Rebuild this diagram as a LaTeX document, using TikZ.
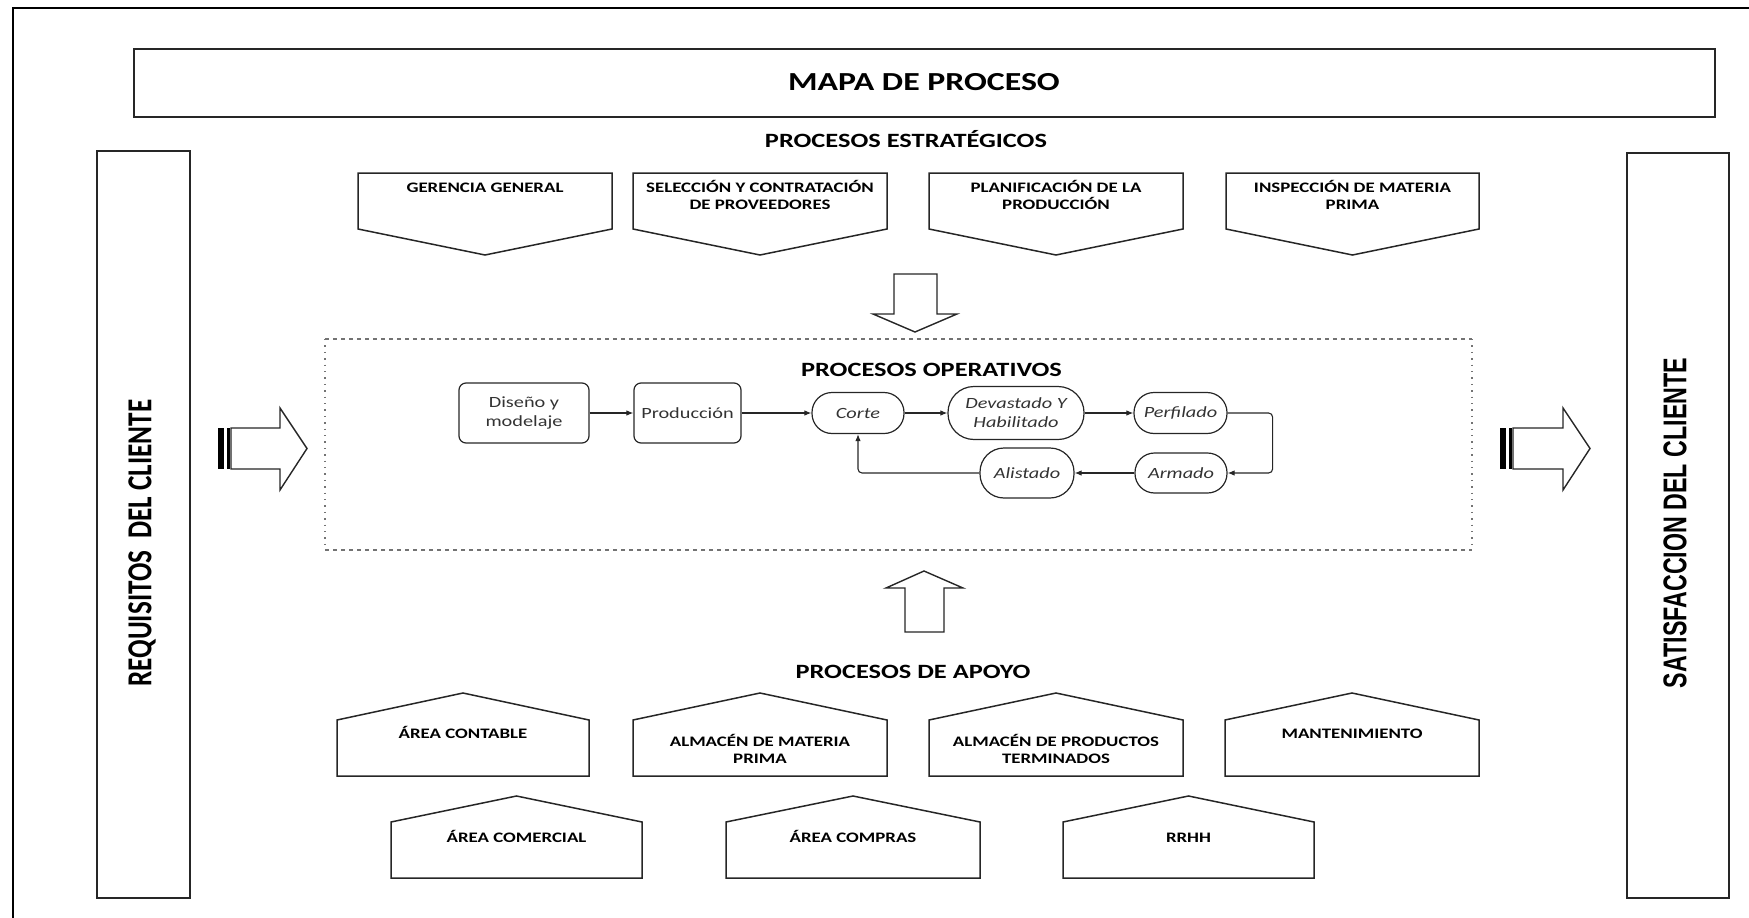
\documentclass[tikz,border=0pt]{standalone}
\usepackage{fontspec}
\usepackage{graphicx}
\setmainfont{Carlito}[FakeStretch=1.3]
\newfontfamily\plaincarlito{Carlito}
\newfontfamily\arialfont{Liberation Sans}
\usetikzlibrary{arrows.meta}

\begin{document}
\begin{tikzpicture}[x=1pt,y=-1pt,
  outline/.style={draw=black!85,line width=1.5pt,line join=miter},
  heading/.style={font=\fontsize{20.3}{24}\selectfont\bfseries, anchor=base, inner sep=0pt},
  boxtext/.style={font=\fontsize{14.5}{17.5}\selectfont\bfseries, align=center, anchor=north,
                  inner sep=0pt, execute at begin node={\vphantom{Á}}},
  flownode/.style={draw=black!85, line width=1.2pt, text=black!80,
                   font=\fontsize{15.6}{19}\selectfont, align=center, inner sep=0pt},
  procbox/.style={flownode, rounded corners=7pt},
  stadium/.style={flownode, font=\fontsize{15.6}{19}\selectfont\itshape},
  flow/.style={draw=black!85, line width=1.1pt, -{Latex[length=7pt,width=5.5pt]}},
  hdash/.style={draw=black!55, line width=1.2pt, dash pattern=on 4pt off 4pt},
  vdot/.style={draw=black!55, line width=1.4pt, dash pattern=on 1.4pt off 5pt},
  blockarrow/.style={draw=black!85, line width=1.4pt, fill=white, line join=miter},
]
\useasboundingbox (0,0) rectangle (1749,918);

% outer frame
\draw[line width=1.5pt] (13,918) -- (13,8) -- (1749,8);

% title
\draw[outline] (134,49) rectangle (1715,117);
\node[font=\fontsize{26}{30}\selectfont\bfseries, anchor=base, inner sep=0pt] (title) at (924,90) {MAPA DE PROCESO};

% side columns
\draw[outline] (97,151) rectangle (190,898);
\draw[outline] (1627,153) rectangle (1729,898);
\node[rotate=90, inner sep=0pt] (req) at (142,543)
  {\resizebox{287pt}{23pt}{\plaincarlito\bfseries REQUISITOS\ \ DEL CLIENTE}};
\node[rotate=90, inner sep=0pt] (sat) at (1675,523)
  {\resizebox{330pt}{23pt}{\arialfont\bfseries SATISFACCION DEL CLIENTE}};

% strategic processes
\node[heading] (estr) at (906,147.5) {PROCESOS ESTRATÉGICOS};
\foreach \xa/\xb/\xc in {358/612/485, 633/887/760, 929/1183/1056, 1226/1479/1352.5}
  \draw[outline] (\xa,173) -- (\xb,173) -- (\xb,229) -- (\xc,255) -- (\xa,229) -- cycle;
\node[boxtext] (ger) at (485,179.8) {GERENCIA GENERAL};
\node[boxtext] (sel) at (760,179.8) {SELECCIÓN Y CONTRATACIÓN\\DE PROVEEDORES};
\node[boxtext] (pla) at (1056,179.8) {PLANIFICACIÓN DE LA\\PRODUCCIÓN};
\node[boxtext] (ins) at (1352.5,179.8) {INSPECCIÓN DE MATERIA\\PRIMA};

% down and up block arrows
\draw[blockarrow] (894,274) -- (937,274) -- (937,314) -- (957,314) -- (915,332)
  -- (873,314) -- (894,314) -- cycle;
\draw[blockarrow] (905,632) -- (905,588) -- (886,588) -- (924,571) -- (963,588)
  -- (944,588) -- (944,632) -- cycle;

% striped arrows at both sides
\fill[black] (218,428) rectangle (223.5,469);
\fill[black] (227,428) rectangle (229.5,469);
\draw[blockarrow] (231,428) -- (280,428) -- (280,408) -- (307,448.5) -- (280,490)
  -- (280,469) -- (231,469) -- cycle;
\fill[black] (1500,428) rectangle (1505.5,469);
\fill[black] (1509,428) rectangle (1511.5,469);
\draw[blockarrow] (1513,428) -- (1563,428) -- (1563,408) -- (1590,448.5) -- (1563,490)
  -- (1563,469) -- (1513,469) -- cycle;

% operative processes frame
\draw[hdash] (325,339) -- (1472,339);
\draw[hdash] (325,550) -- (1472,550);
\draw[vdot] (325,339) -- (325,550);
\draw[vdot] (1472,339) -- (1472,550);
\node[heading] (oper) at (931.5,376) {PROCESOS OPERATIVOS};

% operative flow
\node[procbox, minimum width=130pt, minimum height=60pt] (dis) at (524,413) {Diseño y\\modelaje};
\node[procbox, minimum width=107pt, minimum height=60pt] (pro) at (687.5,413) {Producción};
\node[stadium, rounded corners=20pt, minimum width=92pt, minimum height=41pt] (cor) at (858,413) {Corte};
\node[stadium, rounded corners=26pt, minimum width=136pt, minimum height=53pt] (dev) at (1016,413) {Devastado Y\\Habilitado};
\node[stadium, rounded corners=20pt, minimum width=93pt, minimum height=41pt] (per) at (1180.5,413) {Perfilado};
\node[stadium, rounded corners=19.5pt, minimum width=92pt, minimum height=40pt] (arm) at (1181,473) {Armado};
\node[stadium, rounded corners=24pt, minimum width=94pt, minimum height=50pt] (ali) at (1027,473) {Alistado};

\draw[flow] (dis.east) -- (pro.west);
\draw[flow] (pro.east) -- (cor.west);
\draw[flow] (cor.east) -- (dev.west);
\draw[flow] (dev.east) -- (per.west);
\draw[flow, rounded corners=4pt] (per.east) -- ++(45,0) |- (arm.east);
\draw[flow] (arm.west) -- (ali.east);
\draw[flow, rounded corners=4pt] (ali.west) -| (cor.south);

% support processes
\node[heading] (apoyo) at (913,678) {PROCESOS DE APOYO};
\foreach \xa/\xb/\xc in {337/589/463, 633/887/760, 929/1183/1056, 1225/1479/1352}
  \draw[outline] (\xa,776) -- (\xa,720) -- (\xc,693) -- (\xb,720) -- (\xb,776) -- cycle;
\foreach \xa/\xb/\xc in {391/642/516.5, 726/980/853, 1063/1314/1188.5}
  \draw[outline] (\xa,878) -- (\xa,822) -- (\xc,796) -- (\xb,822) -- (\xb,878) -- cycle;
\node[boxtext] (con) at (463,725.8) {ÁREA CONTABLE};
\node[boxtext] (amp) at (760,733.8) {ALMACÉN DE MATERIA\\PRIMA};
\node[boxtext] (apt) at (1056,733.8) {ALMACÉN DE PRODUCTOS\\TERMINADOS};
\node[boxtext] (man) at (1352,725.8) {MANTENIMIENTO};
\node[boxtext] (com) at (516.5,829.8) {ÁREA COMERCIAL};
\node[boxtext] (cmp) at (853,829.8) {ÁREA COMPRAS};
\node[boxtext] (rrh) at (1188.5,829.8) {RRHH};
\end{tikzpicture}
\end{document}
